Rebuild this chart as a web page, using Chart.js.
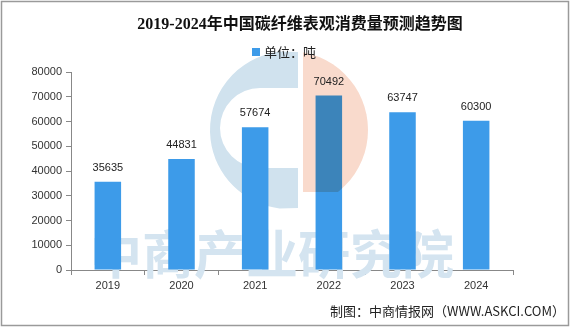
<!DOCTYPE html>
<html>
<head>
<meta charset="utf-8">
<script src="https://cdn.jsdelivr.net/npm/chart.js@4.4.1/dist/chart.umd.min.js"></script>
<style>
  html, body { margin: 0; padding: 0; background: #ffffff; }
  #wrap { width: 581px; height: 327px; position: relative; }
</style>
</head>
<body>
<div id="wrap"><canvas id="c" width="581" height="327"></canvas></div>
<script>
const categories = ['2019', '2020', '2021', '2022', '2023', '2024'];
const consumption = [35635, 44831, 57674, 70492, 63747, 60300];
const yMax = 80000;
const yStep = 10000;
const titleText = '2019-2024年中国碳纤维表观消费量预测趋势图';
const legendText = '单位：吨';
const sourceText = '制图：中商情报网（WWW.ASKCI.COM）';
const watermarkText = '中商产业研究院';
const barColor = '#3d9be9';

function pinkPath(ctx) {
  ctx.save();
  ctx.beginPath();
  ctx.rect(303, 40, 100, 152);
  ctx.clip();
  ctx.beginPath();
  ctx.arc(289, 130, 79, 0, Math.PI * 2);
  ctx.fill();
  ctx.restore();
}

const decorPlugin = {
  id: 'decor',
  beforeDatasetsDraw(chart) {
    const ctx = chart.ctx;
    ctx.save();
    // logo watermark: blue "C"
    ctx.fillStyle = 'rgb(208, 226, 238)';
    ctx.beginPath();
    ctx.arc(289, 130, 79, Math.PI * 1.5 - 0.12, Math.PI * 0.5 + 0.12, true);
    ctx.lineTo(298, 208);
    ctx.lineTo(298, 168);
    ctx.lineTo(260, 168);
    ctx.arc(260, 128, 40, Math.PI * 0.5, Math.PI * 1.5, false);
    ctx.lineTo(298, 88);
    ctx.lineTo(298, 52);
    ctx.closePath();
    ctx.fill();
    // text watermark
    ctx.fillStyle = 'rgb(212, 228, 240)';
    ctx.font = 'bold 52px "Noto Sans CJK SC"';
    ctx.textAlign = 'left';
    ctx.textBaseline = 'middle';
    ctx.fillText(watermarkText, 90, 254);
    ctx.restore();
  },
  afterDatasetsDraw(chart) {
    const ctx = chart.ctx;
    ctx.save();
    ctx.globalCompositeOperation = 'multiply';
    ctx.fillStyle = 'rgb(249, 218, 204)';
    pinkPath(ctx);
    ctx.restore();

    const meta = chart.getDatasetMeta(0);
    ctx.save();
    ctx.fillStyle = '#222222';
    ctx.font = '11px "Liberation Sans", Arial, sans-serif';
    ctx.textAlign = 'center';
    ctx.textBaseline = 'middle';
    meta.data.forEach((bar, i) => {
      ctx.fillText(String(chart.data.datasets[0].data[i]), bar.x, bar.y - 14);
    });
    ctx.restore();
  },
  afterDraw(chart) {
    const ctx = chart.ctx;
    ctx.save();
    ctx.fillStyle = '#111111';
    ctx.font = 'bold 16px "Liberation Serif", "Noto Sans CJK SC", serif';
    ctx.textAlign = 'center';
    ctx.textBaseline = 'middle';
    ctx.fillText(titleText, 300, 25);
    ctx.fillStyle = barColor;
    ctx.fillRect(252, 48, 8, 8);
    ctx.fillStyle = '#222222';
    ctx.font = '13px "Noto Sans CJK SC", sans-serif';
    ctx.textAlign = 'left';
    ctx.fillText(legendText, 264, 52);
    ctx.textAlign = 'right';
    ctx.fillText(sourceText, 565, 311);
    ctx.strokeStyle = '#9a9a9a';
    ctx.lineWidth = 1.5;
    ctx.strokeRect(1.5, 1.5, 567, 324);
    ctx.restore();
  }
};

new Chart(document.getElementById('c'), {
  type: 'bar',
  data: {
    labels: categories,
    datasets: [{
      label: legendText,
      data: consumption,
      backgroundColor: barColor,
      borderWidth: 0,
      categoryPercentage: 1,
      barPercentage: 0.36
    }]
  },
  options: {
    responsive: false,
    animation: false,
    devicePixelRatio: 1,
    layout: { padding: { top: 72, right: 68, bottom: 0, left: 0 } },
    plugins: {
      legend: { display: false },
      title: { display: false },
      tooltip: { enabled: false }
    },
    scales: {
      x: {
        offset: true,
        grid: { offset: true, drawOnChartArea: false, drawTicks: true, tickLength: 5, color: '#888888' },
        border: { color: '#888888' },
        ticks: { color: '#333333', font: { size: 11, family: '"Liberation Sans", Arial, sans-serif' }, padding: 4 },
        afterFit(scale) { scale.height = 57; }
      },
      y: {
        min: 0,
        max: yMax,
        grid: { drawOnChartArea: false, drawTicks: true, tickLength: 5, color: '#888888' },
        border: { color: '#888888' },
        ticks: {
          stepSize: yStep,
          color: '#333333',
          font: { size: 11, family: '"Liberation Sans", Arial, sans-serif' },
          padding: 4,
          callback: (v) => String(v)
        },
        afterFit(scale) { scale.width = 71; }
      }
    }
  },
  plugins: [decorPlugin]
});
</script>
</body>
</html>
